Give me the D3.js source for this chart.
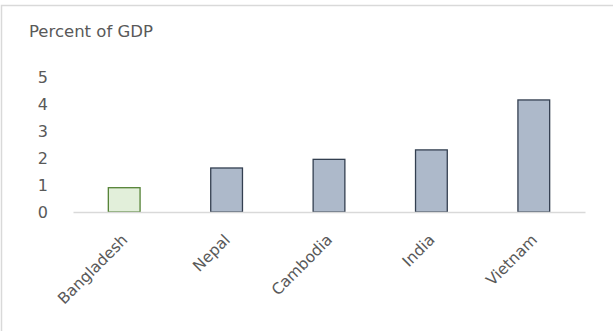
<!DOCTYPE html>
<html>
<head>
<meta charset="utf-8">
<script src="https://cdn.jsdelivr.net/npm/d3@7"></script>
<style>
  html, body { margin: 0; padding: 0; background: #fff; }
  svg { display: block; }
  text { font-family: "DejaVu Sans", sans-serif; fill: #595959; }
</style>
</head>
<body>
<script>
const categories = ["Bangladesh", "Nepal", "Cambodia", "India", "Vietnam"];
const values = [0.9, 1.63, 1.95, 2.3, 4.15];
const highlight = ["Bangladesh"];
const yTicks = [0, 1, 2, 3, 4, 5];
const yTitle = "Percent of GDP";

const W = 613, H = 331;
const FONT = "DejaVu Sans, sans-serif";
const svg = d3.select("body").append("svg").attr("width", W).attr("height", H);

svg.append("rect")
  .attr("x", 1.5).attr("y", 5.5).attr("width", W + 10).attr("height", H + 10)
  .attr("fill", "none").attr("stroke", "#d9d9d9").attr("stroke-width", 1.5);

const x = d3.scaleBand().domain(categories).range([73, 585]).paddingInner(0.69).paddingOuter(0.345);
const y = d3.scaleLinear().domain([0, 5]).range([212, 77]);

svg.append("text").attr("x", 29).attr("y", 37).attr("font-size", 16.5).text(yTitle);

const yAxis = svg.append("g").attr("transform", "translate(48,0)")
  .call(d3.axisLeft(y).tickValues(yTicks).tickSize(0).tickPadding(0).tickFormat(d3.format("d")));
yAxis.select(".domain").remove();
yAxis.selectAll("text").attr("font-size", 16).attr("fill", "#595959").attr("font-family", FONT);

svg.selectAll("rect.bar").data(categories).enter().append("rect")
  .attr("class", "bar")
  .attr("x", d => x(d))
  .attr("y", (d, i) => y(values[i]))
  .attr("width", x.bandwidth())
  .attr("height", (d, i) => y(0) - y(values[i]))
  .attr("fill", d => highlight.includes(d) ? "#e2efda" : "#adb9ca")
  .attr("stroke", d => highlight.includes(d) ? "#548235" : "#333f50")
  .attr("stroke-width", 1.3);

const xAxis = svg.append("g").attr("transform", "translate(0,212)")
  .call(d3.axisBottom(x).tickSize(0).tickPadding(0));
xAxis.select(".domain").attr("stroke", "#d9d9d9").attr("stroke-width", 1.5);
xAxis.selectAll("text")
  .attr("font-size", 15.5).attr("fill", "#595959").attr("font-family", FONT)
  .attr("text-anchor", "end")
  .attr("dy", "0.35em")
  .attr("transform", "translate(0.5,25) rotate(-45)");
</script>
</body>
</html>
